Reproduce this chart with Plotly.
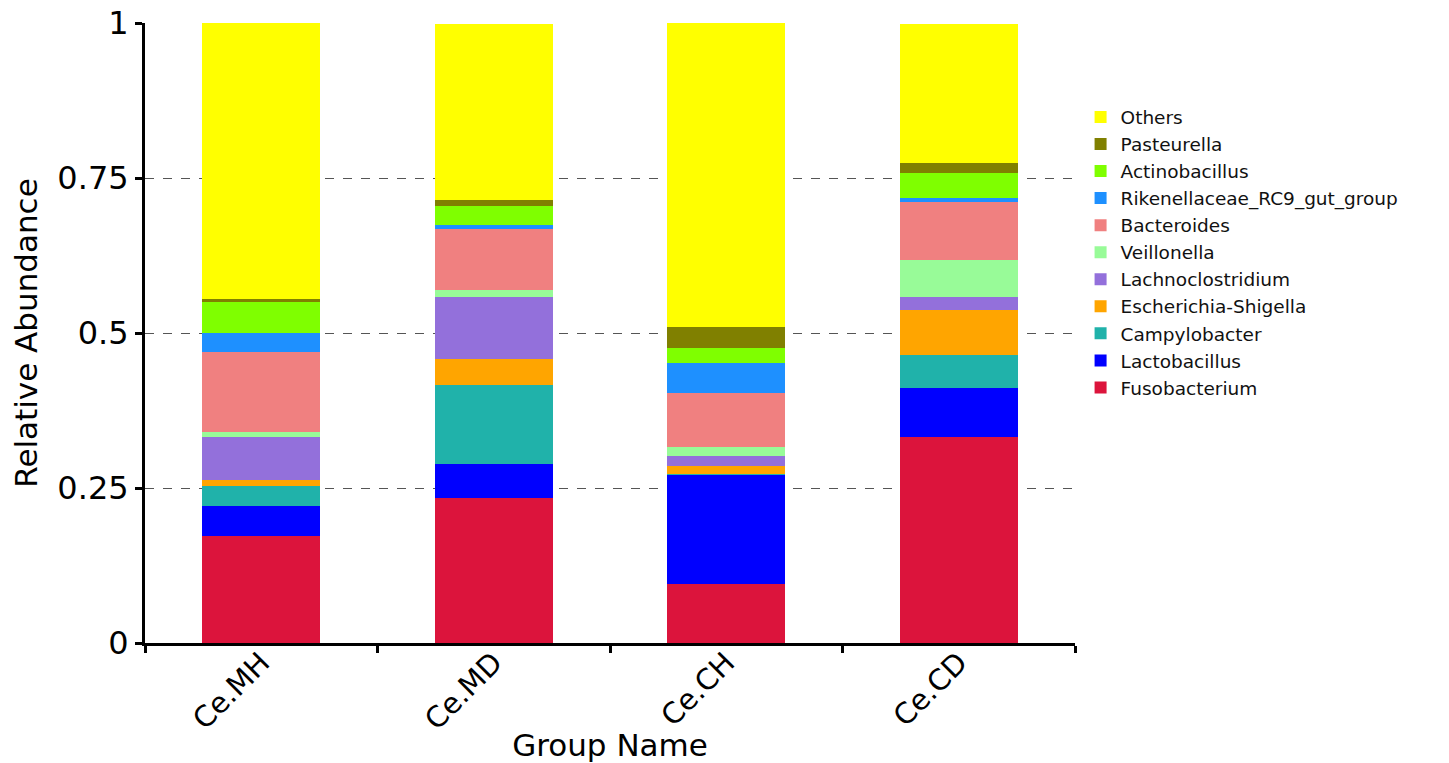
import plotly.graph_objects as go

groups = ["Ce.MH", "Ce.MD", "Ce.CH", "Ce.CD"]

# stacking order bottom -> top
taxa = ["Fusobacterium", "Lactobacillus", "Campylobacter", "Escherichia-Shigella",
        "Lachnoclostridium", "Veillonella", "Bacteroides", "Rikenellaceae_RC9_gut_group",
        "Actinobacillus", "Pasteurella", "Others"]

fusobacterium = [0.173, 0.234, 0.095, 0.333]
lactobacillus = [0.048, 0.054, 0.176, 0.079]
campylobacter = [0.033, 0.128, 0.002, 0.052]
escherichia = [0.009, 0.042, 0.013, 0.0735]
lachnoclostridium = [0.070, 0.100, 0.015, 0.021]
veillonella = [0.007, 0.012, 0.015, 0.0595]
bacteroides = [0.130, 0.0975, 0.088, 0.093]
rikenellaceae = [0.030, 0.0075, 0.048, 0.007]
actinobacillus = [0.050, 0.0295, 0.024, 0.040]
pasteurella = [0.005, 0.0105, 0.033, 0.016]
others = [0.445, 0.284, 0.491, 0.225]

series = [fusobacterium, lactobacillus, campylobacter, escherichia, lachnoclostridium,
          veillonella, bacteroides, rikenellaceae, actinobacillus, pasteurella, others]

colors = ["#DC143C", "#0000FF", "#20B2AA", "#FFA500", "#9370DB", "#98FB98",
          "#F08080", "#1E90FF", "#7FFF00", "#808000", "#FFFF00"]

FONT = "DejaVu Sans"

fig = go.Figure()
for name, vals, col in zip(taxa, series, colors):
    fig.add_trace(go.Bar(x=groups, y=vals, name=name, marker_color=col,
                         marker_line_width=0, width=0.506))

fig.update_layout(
    barmode="stack",
    width=1441, height=755,
    margin=dict(l=137, r=374, t=15, b=120),
    plot_bgcolor="white", paper_bgcolor="white",
    font=dict(family=FONT, color="black"),
    legend=dict(traceorder="reversed", x=1.006, y=0.63, xanchor="left", yanchor="middle",
                font=dict(size=18.5, family=FONT, color="#111111"), itemwidth=30, tracegroupgap=0),
    xaxis=dict(range=[-0.5, 3.5], showline=True, linecolor="black", linewidth=3,
               automargin=False,
               ticks="outside", tickson="boundaries", ticklen=7, tickwidth=2.5, tickcolor="black",
               tickangle=-45, tickfont=dict(size=29, family=FONT), ticklabelstandoff=-12,
               title=dict(text="Group Name", font=dict(size=31, family=FONT), standoff=0)),
    yaxis=dict(range=[0, 1], showline=True, linecolor="black", linewidth=3,
               automargin=False, ticklabeloverflow="allow",
               ticks="outside", ticklen=7, tickwidth=2.5, tickcolor="black",
               tickvals=[0, 0.25, 0.5, 0.75, 1], ticktext=["0", "0.25", "0.5", "0.75", "1"],
               tickfont=dict(size=32, family=FONT),
               showgrid=True, gridcolor="#555555", griddash="dash", gridwidth=1,
               zeroline=False,
               title=dict(text="Relative Abundance", font=dict(size=31, family=FONT), standoff=12)),
)

fig.write_html("out.html")
